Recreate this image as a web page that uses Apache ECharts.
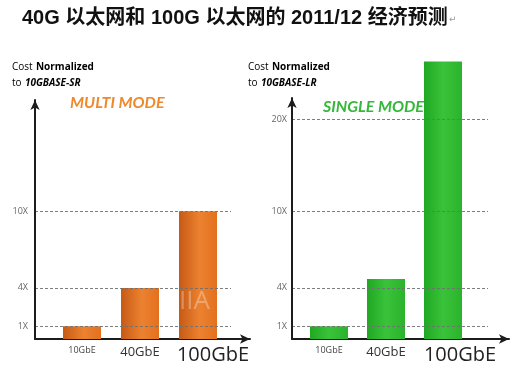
<!DOCTYPE html>
<html><head><meta charset="utf-8">
<script src="https://cdn.jsdelivr.net/npm/echarts@6/dist/echarts.min.js"></script>
<style>html,body{margin:0;padding:0;background:#fff}#c{width:520px;height:372px}</style>
</head><body><div id="c"></div>
<script>
// ---- data ----
const categories = ['10GbE', '40GbE', '100GbE'];
const multiModeCost = [1, 4, 10];
const singleModeCost = [1, 4.7, 24.5];
const multiTickValues = [1, 4, 10];
const singleTickValues = [1, 4, 10, 20];
const tickSuffix = 'X';

// ---- layout helpers ----
const BASE = 339;       // baseline pixel
const PPU = 12.78;      // pixels per unit
const SR = { start: 14, end: 16.79 };   // compressed span on single-mode axis
const SR_SPAN = SR.end - SR.start;

const chart = echarts.init(document.getElementById('c'), null, { renderer: 'canvas' });
const AX = '#1c1c1c';
const FONT = '"Open Sans", "Liberation Sans", sans-serif';

function grid(left, top, width, baseline) {
  return { left: left, top: top, width: width, height: baseline - top, containLabel: false };
}
function lineArrow() {
  return { show: true, symbol: ['none', 'arrow'], symbolSize: [7, 10], lineStyle: { color: AX, width: 2 } };
}
function yScale(gi, max, brk) {
  const o = { gridIndex: gi, type: 'value', min: 0, max: max };
  if (brk) { o.breaks = [{ start: SR.start, end: SR.end, gap: 0 }]; o.breakArea = { show: false }; }
  return o;
}

const grids = [], xAxes = [], yAxes = [], series = [];

function panel(cfg) {
  const g0 = grids.length;
  const frameMax = (BASE - cfg.frameTop) / PPU + (cfg.brk ? SR_SPAN : 0);
  const barMax = (BASE - cfg.barTop) / PPU + (cfg.brk ? SR_SPAN : 0);
  // frame grid (axis lines with arrows + tick labels)
  grids.push(grid(cfg.axisX, cfg.frameTop, cfg.arrowEnd - cfg.axisX, BASE));
  xAxes.push({ gridIndex: g0, type: 'value', min: 0, max: 1, axisLine: lineArrow(),
    axisTick: { show: false }, axisLabel: { show: false }, splitLine: { show: false } });
  yAxes.push(Object.assign(yScale(g0, frameMax, cfg.brk), {
    axisLine: lineArrow(), z: 6,
    axisTick: { show: false, customValues: cfg.ticks },
    axisLabel: { customValues: cfg.ticks, formatter: v => v + tickSuffix, color: '#666',
      fontSize: 9, fontFamily: FONT, margin: cfg.labelMargin },
    splitLine: { show: false }
  }));
  // dashed reference lines grid
  grids.push(grid(cfg.axisX, cfg.frameTop, cfg.dashEnd - cfg.axisX, BASE));
  xAxes.push({ gridIndex: g0 + 1, type: 'value', min: 0, max: 1, show: false });
  yAxes.push(Object.assign(yScale(g0 + 1, frameMax, cfg.brk), {
    z: 5,
    axisLine: { show: false },
    axisTick: { show: false, customValues: cfg.ticks },
    axisLabel: { show: false },
    splitLine: { show: true, lineStyle: { type: [3, 2], color: '#707070', width: 1, opacity: 0.9 } }
  }));
  // bars grid
  grids.push(grid(cfg.barLeft, cfg.barTop, cfg.bandW * categories.length, BASE));
  xAxes.push({ gridIndex: g0 + 2, type: 'category', data: categories,
    axisLine: { show: false }, axisTick: { show: false },
    axisLabel: { interval: 0, margin: 6, verticalAlign: 'top',
      formatter: (v, i) => '{s' + i + '|' + v + '}',
      rich: {
        s0: { fontSize: 9, lineHeight: 10, color: '#444', fontFamily: FONT },
        s1: { fontSize: 13, lineHeight: 14, color: '#333', fontFamily: FONT },
        s2: { fontSize: 20, lineHeight: 21, color: '#222', fontFamily: FONT, padding: [0, 0, 0, cfg.bigShift] }
      } } });
  yAxes.push(Object.assign(yScale(g0 + 2, barMax, cfg.brk), { show: false }));
  series.push({ type: 'bar', xAxisIndex: g0 + 2, yAxisIndex: g0 + 2, data: cfg.data,
    barWidth: 38, z: 2,
    itemStyle: { color: { type: 'linear', x: 0, y: 0, x2: 1, y2: 0, colorStops: cfg.colors } } });
}

panel({ data: multiModeCost, ticks: multiTickValues, brk: false,
  axisX: 35, arrowEnd: 250, dashEnd: 231, frameTop: 100, barTop: 100,
  barLeft: 53, bandW: 58, labelMargin: 7, bigShift: 30,
  colors: [{ offset: 0, color: '#c65a16' }, { offset: 0.55, color: '#ec8230' }, { offset: 1, color: '#e3701f' }] });

panel({ data: singleModeCost, ticks: singleTickValues, brk: true,
  axisX: 292, arrowEnd: 509, dashEnd: 488, frameTop: 98, barTop: 42,
  barLeft: 300.5, bandW: 57, labelMargin: 5, bigShift: 34,
  colors: [{ offset: 0, color: '#20a822' }, { offset: 0.5, color: '#39c23a' }, { offset: 1, color: '#2cb32d' }] });

const RED = '#e23a4e';
const small = {
  a: { fontSize: 10, color: '#555', fontFamily: FONT },
  b: { fontSize: 10, color: '#333', fontWeight: 'bold', fontFamily: FONT },
  r: { fontSize: 10, color: RED, fontWeight: 'bold', fontStyle: 'italic', fontFamily: FONT }
};

function txt(x, y, text, style) {
  return { type: 'text', x: x, y: y, z: 20, style: Object.assign({ text: text, verticalAlign: 'middle' }, style) };
}

const graphics = [
  txt(22, 18, '40G 以太网和 100G 以太网的 2011/12 经济预测',
    { fill: '#111', font: 'bold 20px "Liberation Sans", "Noto Sans CJK SC", sans-serif' }),
  txt(449, 20, '↵', { fill: '#9a9a9a', font: '9px "DejaVu Sans"' }),
  txt(12, 67, '{a|Cost} {b|Normalized}', { rich: small }),
  txt(12, 83, '{a|to} {r|10GBASE-SR}', { rich: small }),
  txt(248, 67, '{a|Cost} {b|Normalized}', { rich: small }),
  txt(248, 83, '{a|to} {r|10GBASE-LR}', { rich: small }),
  txt(70, 103, 'MULTI MODE', { fill: '#ee8a2c', font: 'italic bold 16px Lato, "Open Sans", sans-serif' }),
  txt(323, 107, 'SINGLE MODE', { fill: '#35b83a', font: 'italic bold 16px Lato, "Open Sans", sans-serif' }),
  txt(179, 302, 'IIA', { fill: 'rgba(255,255,255,0.3)', font: '26px "Open Sans", sans-serif' })
];

chart.setOption({
  animation: false,
  backgroundColor: '#ffffff',
  grid: grids, xAxis: xAxes, yAxis: yAxes, series: series,
  graphic: graphics
});
</script></body></html>
